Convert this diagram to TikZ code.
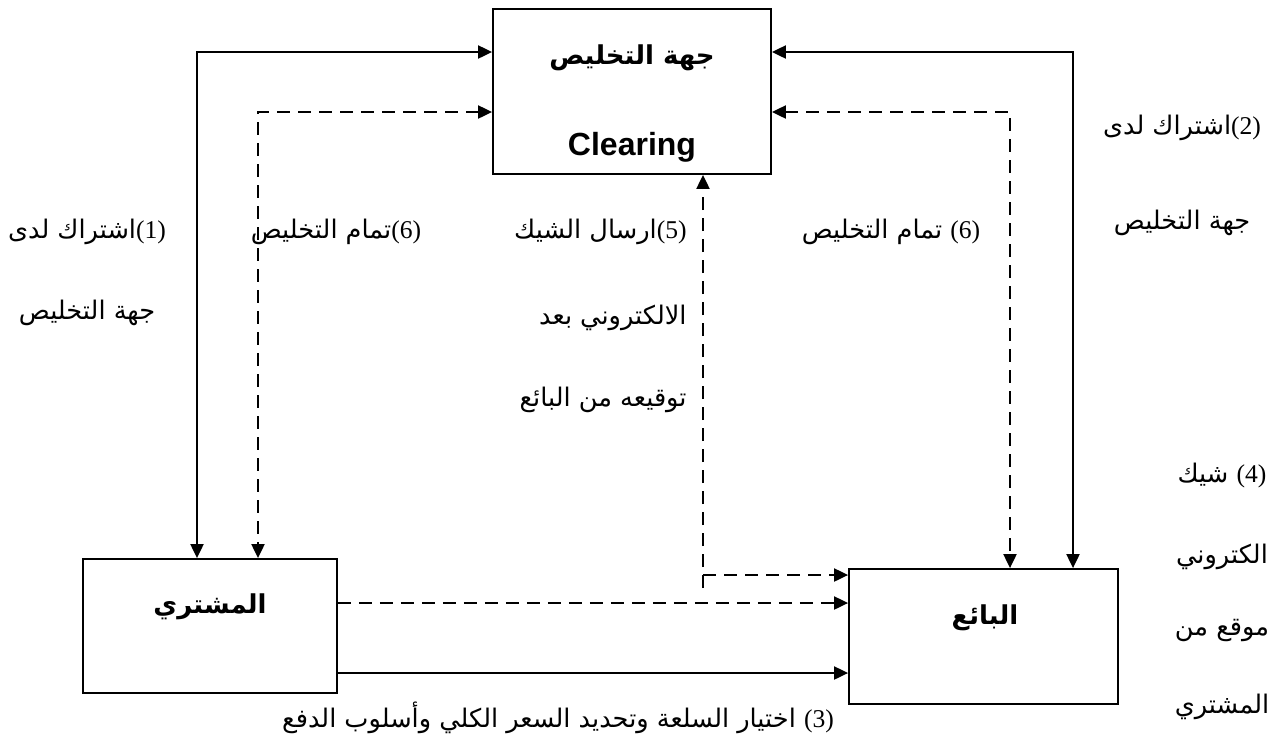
\documentclass[tikz,border=0pt]{standalone}
\usepackage{fontspec}
\setmainfont{Liberation Serif}
\newfontfamily\arabicfont[Script=Arabic]{DejaVu Sans}
\newfontfamily\latinsans{Liberation Sans}
\TeXXeTstate=1
\usetikzlibrary{arrows.meta, positioning}
\newcommand{\ar}[1]{{\arabicfont\beginR #1\endR}}
\newcommand{\numtag}[1]{{\rmfamily\beginL(#1)\endL}}

\begin{document}
\begin{tikzpicture}[x=0.5pt, y=-0.5pt,
	>={Triangle[length=7pt,width=6.5pt]},
	box/.style={draw, line width=0.9pt, inner sep=0pt},
	flow/.style={line width=1pt},
	dashflow/.style={flow, dash pattern=on 6.5pt off 4pt},
	lbl/.style={inner sep=1pt, font=\fontsize{12.8}{14}\selectfont},
	ttl/.style={inner sep=1pt, font=\fontsize{13}{15}\selectfont\bfseries}]
		\useasboundingbox (0,0) rectangle (1269,740);
		
		\node[box, minimum width=139pt, minimum height=82.5pt] (clearing) at (632,91.5) {};
		\node[box, minimum width=127pt, minimum height=67pt] (buyer) at (210,626) {};
		\node[box, minimum width=134.5pt, minimum height=67.5pt] (seller) at (983.5,636.5) {};
		
		\node[ttl] (clearingar) at (632,58) {\ar{جهة التخليص}};
		\node[ttl, font=\fontsize{16}{18}\selectfont\bfseries\latinsans] (clearingen) at (632,147) {Clearing};
		\node[ttl] (buyername) at (210,607) {\ar{المشتري}};
		\node[ttl] (sellername) at (985,618) {\ar{البائع}};
		
		\coordinate (k1) at (197,52);
		\coordinate (k6l) at (258,112);
		\coordinate (k2) at (1073,52);
		\coordinate (k6r) at (1010,112);
		\coordinate (k5) at (703,588);
		\coordinate (k5h) at (703,575);
		\coordinate (d3) at (0,603);
		\coordinate (s3) at (0,673);
		
		\draw[flow, <->] (clearing.west |- k1) -- (k1) -- (k1 |- buyer.north);
		\draw[dashflow, <->] (clearing.west |- k6l) -- (k6l) -- (k6l |- buyer.north);
		\draw[flow, <->] (clearing.east |- k2) -- (k2) -- (k2 |- seller.north);
		\draw[dashflow, <->] (clearing.east |- k6r) -- (k6r) -- (k6r |- seller.north);
		\draw[dashflow, ->] (k5) -- (k5 |- clearing.south);
		\draw[dashflow, ->] (k5h) -- (k5h -| seller.west);
		\draw[dashflow, ->] (buyer.east |- d3) -- (seller.west |- d3);
		\draw[flow, ->] (buyer.east |- s3) -- (seller.west |- s3);
		
		\node[lbl] (l1a) at (87,232) {\ar{\numtag{1}اشتراك لدى}};
		\node[lbl] (l1b) at (87,313) {\ar{جهة التخليص}};
		\node[lbl] (l6a) at (336,232) {\ar{\numtag{6}تمام التخليص}};
		\node[lbl, anchor=east] (l5a) at (689,232) {\ar{\numtag{5}ارسال الشيك}};
		\node[lbl, anchor=east] (l5b) at (689,318) {\ar{الالكتروني بعد}};
		\node[lbl, anchor=east] (l5c) at (689,400) {\ar{توقيعه من البائع}};
		\node[lbl] (l6b) at (891,232) {\ar{\numtag{6} تمام التخليص}};
		\node[lbl] (l2a) at (1182,128) {\ar{\numtag{2}اشتراك لدى}};
		\node[lbl] (l2b) at (1182,223) {\ar{جهة التخليص}};
		\node[lbl] (l4a) at (1222,475) {\ar{\numtag{4} شيك}};
		\node[lbl] (l4b) at (1222,557) {\ar{الكتروني}};
		\node[lbl] (l4c) at (1222,630) {\ar{موقع من}};
		\node[lbl] (l4d) at (1222,707) {\ar{المشتري}};
		\node[lbl] (l3) at (558,718) {\ar{\numtag{3} اختيار السلعة وتحديد السعر الكلي وأسلوب الدفع}};
\end{tikzpicture}
\end{document}
